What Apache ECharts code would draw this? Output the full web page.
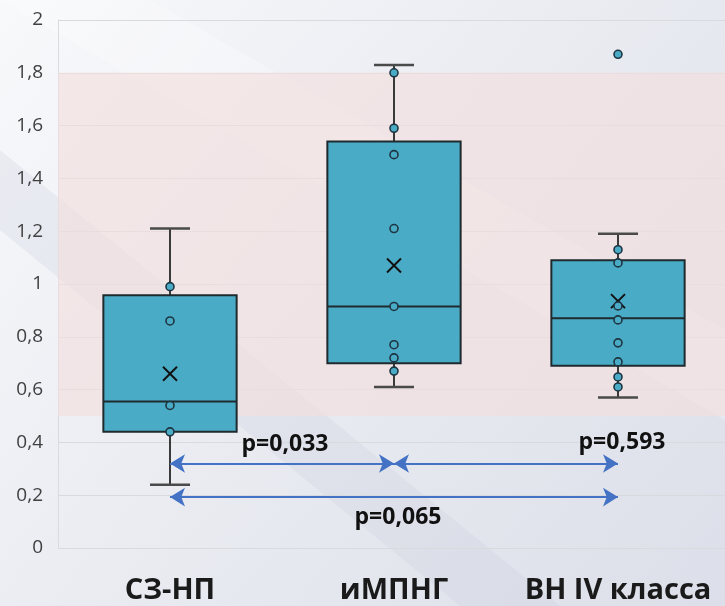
<!DOCTYPE html>
<html>
<head>
<meta charset="utf-8">
<script src="https://cdn.jsdelivr.net/npm/echarts@6/dist/echarts.min.js"></script>
<style>
html,body{margin:0;padding:0;}
#chart{width:725px;height:606px;}
</style>
</head>
<body>
<div id="chart"></div>
<script>
// ---- data ----
const categories = ['СЗ-НП', 'иМПНГ', 'ВН IV класса'];
const whiskerMin = [0.24, 0.61, 0.57];
const quartile1 = [0.44, 0.70, 0.69];
const medians = [0.555, 0.915, 0.87];
const quartile3 = [0.957, 1.54, 1.09];
const whiskerMax = [1.21, 1.83, 1.19];
const means = [0.66, 1.07, 0.935];
const pointsGroup1 = [0.99, 0.86, 0.54, 0.44];
const pointsGroup2 = [1.80, 1.59, 1.49, 1.21, 0.915, 0.77, 0.72, 0.67];
const pointsGroup3 = [1.87, 1.13, 1.08, 0.917, 0.864, 0.777, 0.705, 0.648, 0.61];
const compFrom = [0, 1, 0];
const compTo = [1, 2, 2];
const compLevel = [0.32, 0.32, 0.193];
const compLabels = ['p=0,033', 'p=0,593', 'p=0,065'];
const normalBand = [0.5, 1.8];
const yTicks = [0, 0.2, 0.4, 0.6, 0.8, 1, 1.2, 1.4, 1.6, 1.8, 2];

// ---- build ----
const boxData = categories.map((c, i) => [i, whiskerMin[i], quartile1[i], medians[i], quartile3[i], whiskerMax[i], means[i]]);
const pointGroups = [pointsGroup1, pointsGroup2, pointsGroup3];
const pointData = [];
pointGroups.forEach((g, i) => g.forEach(v => pointData.push([i, v])));

const labelStyles = [
  { position: 'middle', distance: 8, offset: [3, 0] },
  { position: 'middle', distance: 10, offset: [116, 0] },
  { position: 'insideMiddleBottom', distance: 9, offset: [4, 0] }
];
const markLineData = compFrom.map((f, i) => [
  { coord: [f, compLevel[i]], label: Object.assign({ show: true, formatter: compLabels[i] }, labelStyles[i]) },
  { coord: [compTo[i], compLevel[i]] }
]);

const fmt = v => { const r = Math.round(v * 10) / 10; return String(r).replace('.', ','); };

const chart = echarts.init(document.getElementById('chart'), null, { renderer: 'canvas' });
const option = {
  animation: false,
  backgroundColor: {
    type: 'linear', x: 0, y: 0, x2: 1, y2: 1,
    colorStops: [
      { offset: 0, color: '#f8f9fb' },
      { offset: 0.5, color: '#e9ebf1' },
      { offset: 1, color: '#dcdfe9' }
    ]
  },
  graphic: [
    { type: 'polygon', silent: true, z: -10,
      shape: { points: [[0, 0], [150, 0], [725, 330], [725, 420]] },
      style: { fill: 'rgba(255,255,255,0.25)' } },
    { type: 'polygon', silent: true, z: -10,
      shape: { points: [[0, 150], [0, 230], [460, 606], [560, 606]] },
      style: { fill: 'rgba(200,205,220,0.25)' } }
  ],
  grid: { left: 58, top: 20, width: 672, height: 528, containLabel: false, outerBoundsMode: 'none' },
  xAxis: {
    type: 'category',
    data: categories,
    axisLine: { show: false },
    axisTick: { show: false },
    axisLabel: {
      interval: 0,
      hideOverlap: false,
      margin: 28,
      fontFamily: 'Open Sans',
      fontWeight: 'bold',
      fontSize: 29,
      color: '#1a1a1a'
    },
    splitLine: { show: false }
  },
  yAxis: {
    type: 'value',
    min: yTicks[0],
    max: yTicks[yTicks.length - 1],
    interval: 0.2,
    axisLine: { show: true, lineStyle: { color: '#dadbde', width: 1 } },
    axisTick: { show: false },
    axisLabel: {
      margin: 15,
      fontFamily: 'Open Sans',
      fontSize: 19,
      color: '#404040',
      formatter: fmt
    },
    splitLine: { show: true, lineStyle: { color: '#d9dadd', width: 1.2 } }
  },
  series: [
    {
      type: 'custom',
      name: 'box',
      data: boxData,
      encode: { x: 0, y: [1, 2, 3, 4, 5, 6] },
      z: 3,
      markArea: {
        silent: true,
        itemStyle: { color: 'rgba(243,222,223,0.65)' },
        data: [[{ yAxis: normalBand[0] }, { yAxis: normalBand[1] }]]
      },
      renderItem: function (params, api) {
        const x = api.value(0);
        const pMin = api.coord([x, api.value(1)]);
        const pQ1 = api.coord([x, api.value(2)]);
        const pMed = api.coord([x, api.value(3)]);
        const pQ3 = api.coord([x, api.value(4)]);
        const pMax = api.coord([x, api.value(5)]);
        const pMean = api.coord([x, api.value(6)]);
        const band = api.size([1, 0])[0];
        const bw = band * 0.595;
        const cap = 20;
        const cx = pMed[0];
        const lineStyle = { stroke: '#3a3a3a', lineWidth: 2 };
        const xs = 7;
        return {
          type: 'group',
          children: [
            { type: 'line', shape: { x1: cx, y1: pMax[1], x2: cx, y2: pQ3[1] }, style: lineStyle },
            { type: 'line', shape: { x1: cx, y1: pQ1[1], x2: cx, y2: pMin[1] }, style: lineStyle },
            { type: 'line', shape: { x1: cx - cap, y1: pMax[1], x2: cx + cap, y2: pMax[1] }, style: { stroke: '#4a4a4a', lineWidth: 2.5 } },
            { type: 'line', shape: { x1: cx - cap, y1: pMin[1], x2: cx + cap, y2: pMin[1] }, style: { stroke: '#4a4a4a', lineWidth: 2.5 } },
            { type: 'rect', shape: { x: cx - bw / 2, y: pQ3[1], width: bw, height: pQ1[1] - pQ3[1] },
              style: { fill: '#4aabc6', stroke: '#1f2a2e', lineWidth: 2 } },
            { type: 'line', shape: { x1: cx - bw / 2, y1: pMed[1], x2: cx + bw / 2, y2: pMed[1] },
              style: { stroke: '#1f2a2e', lineWidth: 2 } },
            { type: 'line', z2: 20, shape: { x1: pMean[0] - xs, y1: pMean[1] - xs, x2: pMean[0] + xs, y2: pMean[1] + xs },
              style: { stroke: '#111', lineWidth: 2 } },
            { type: 'line', z2: 20, shape: { x1: pMean[0] - xs, y1: pMean[1] + xs, x2: pMean[0] + xs, y2: pMean[1] - xs },
              style: { stroke: '#111', lineWidth: 2 } }
          ]
        };
      }
    },
    {
      type: 'scatter',
      name: 'points',
      data: pointData,
      z: 4,
      symbol: 'circle',
      symbolSize: 8,
      itemStyle: { color: '#4aabc6', borderColor: '#1e3440', borderWidth: 1.6, opacity: 1 }
    },
    {
      type: 'scatter',
      name: 'comparisons',
      data: [],
      z: 5,
      markLine: {
        silent: true,
        symbol: ['arrow', 'arrow'],
        symbolSize: [14, 15],
        lineStyle: { color: '#4472c4', width: 2.2, type: 'solid' },
        itemStyle: { color: '#4472c4' },
        label: {
          fontFamily: 'Open Sans',
          fontWeight: 'bold',
          fontSize: 23,
          color: '#111'
        },
        emphasis: { disabled: true },
        data: markLineData
      }
    }
  ]
};
chart.setOption(option);
</script>
</body>
</html>
